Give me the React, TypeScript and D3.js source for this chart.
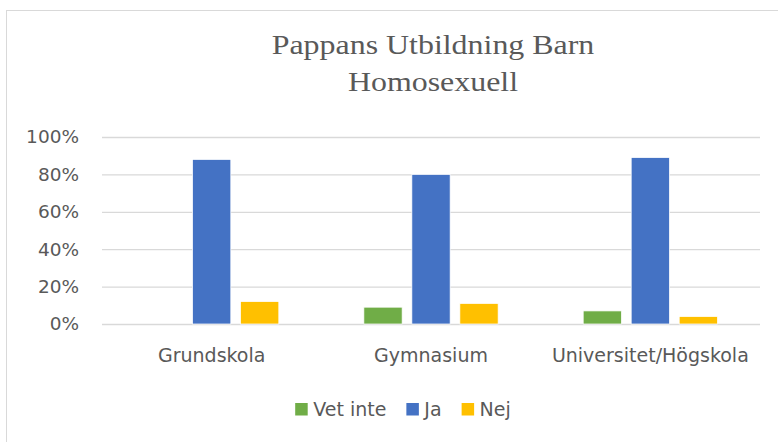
import React, { useEffect, useRef } from "react";
import * as d3 from "d3";

const categories = ["Grundskola", "Gymnasium", "Universitet/Högskola"];
const seriesNames = ["Vet inte", "Ja", "Nej"];
const vetInte = [0, 0.09, 0.07];
const ja = [0.88, 0.8, 0.89];
const nej = [0.12, 0.11, 0.04];
const yTicks = [0, 0.2, 0.4, 0.6, 0.8, 1.0];
const titleLines = ["Pappans Utbildning Barn", "Homosexuell"];

const colors = ["#70AD47", "#4472C4", "#FFC000"];
const textColor = "#595959";
const labelFont = "'DejaVu Sans', sans-serif";

const App: React.FC = () => {
    const svgRef = useRef<SVGSVGElement>(null);

    useEffect(() => {
        if (!svgRef.current) return;
        const width = 778;
        const height = 442;
        const margin = { top: 137, right: 18, bottom: 118, left: 102 };
        const innerW = width - margin.left - margin.right;
        const innerH = height - margin.top - margin.bottom;

        const svg = d3.select(svgRef.current);
        svg.selectAll("*").remove();

        // chart frame, runs off the right and bottom edges
        svg.append("rect")
            .attr("x", 6.5)
            .attr("y", 10.5)
            .attr("width", 900)
            .attr("height", 600)
            .attr("fill", "#fff")
            .attr("stroke", "#D9D9D9")
            .attr("stroke-width", 1);

        // title (source is a bit stretched sideways)
        const titleX = 433;
        const title = svg.append("text")
            .attr("x", 0)
            .attr("y", 54)
            .attr("text-anchor", "middle")
            .attr("fill", textColor)
            .attr("transform", `translate(${titleX},0) scale(1.14,1)`)
            .style("font-family", "'Liberation Serif', 'Times New Roman', serif")
            .style("font-size", "28px");
        titleLines.forEach((line, i) => {
            title.append("tspan")
                .attr("x", 0)
                .attr("dy", i === 0 ? 0 : 37)
                .text(line);
        });

        const g = svg.append("g")
            .attr("transform", `translate(${margin.left},${margin.top})`);

        const x0 = d3.scaleBand()
            .domain(categories)
            .range([0, innerW])
            .paddingInner(0)
            .paddingOuter(0);

        const y = d3.scaleLinear().domain([0, 1]).range([innerH, 0]);

        // gridlines + y labels
        const yAxis = g.append("g")
            .call(d3.axisLeft(y).tickValues(yTicks).tickFormat(d3.format(".0%")).tickSize(-innerW).tickPadding(23));
        yAxis.select(".domain").remove();
        yAxis.selectAll("line").attr("stroke", "#D9D9D9").attr("stroke-width", 1.3);
        yAxis.selectAll("text")
            .attr("fill", textColor)
            .style("font-family", labelFont)
            .style("font-size", "18.5px");

        // bars
        const barW = 38.3;
        const barGap = 9.7;
        const groupW = barW * 3 + barGap * 2;
        const x1 = d3.scaleBand()
            .domain(seriesNames)
            .range([0, groupW])
            .paddingInner(barGap / (barW + barGap))
            .paddingOuter(0);
        const values = [vetInte, ja, nej];

        categories.forEach((cat, ci) => {
            const grp = g.append("g")
                .attr("transform", `translate(${(x0(cat) || 0) + x0.bandwidth() / 2 - groupW / 2},0)`);
            seriesNames.forEach((s, si) => {
                const v = values[si][ci];
                if (!v) return;
                grp.append("rect")
                    .attr("x", x1(s) || 0)
                    .attr("y", y(v))
                    .attr("width", x1.bandwidth())
                    .attr("height", innerH - y(v))
                    .attr("fill", colors[si])
                    .attr("stroke", "#fff")
                    .attr("stroke-width", 0.75);
            });
        });

        // x labels
        const xAxis = g.append("g")
            .attr("transform", `translate(0,${innerH})`)
            .call(d3.axisBottom(x0).tickSize(0).tickPadding(24.5));
        xAxis.select(".domain").remove();
        xAxis.selectAll("text")
            .attr("fill", textColor)
            .style("font-family", labelFont)
            .style("font-size", "19px");

        // legend, centred under the plot
        const legend = svg.append("g");
        let cursor = 0;
        seriesNames.forEach((s, i) => {
            const item = legend.append("g").attr("transform", `translate(${cursor},0)`);
            item.append("rect")
                .attr("x", 0)
                .attr("y", -13)
                .attr("width", 12.5)
                .attr("height", 12.5)
                .attr("fill", colors[i]);
            const t = item.append("text")
                .attr("x", 18)
                .attr("y", 0)
                .attr("fill", textColor)
                .style("font-family", labelFont)
                .style("font-size", "19px")
                .text(s);
            const tw = (t.node() as SVGTextElement).getComputedTextLength();
            cursor += 18 + tw + 20;
        });
        const legendW = cursor - 20;
        legend.attr("transform", `translate(${403 - legendW / 2},416)`);
    }, []);

    return (
        <svg
            ref={svgRef}
            width={778}
            height={442}
            style={{ position: "absolute", top: 0, left: 0, background: "#fff" }}
        />
    );
};

export default App;
